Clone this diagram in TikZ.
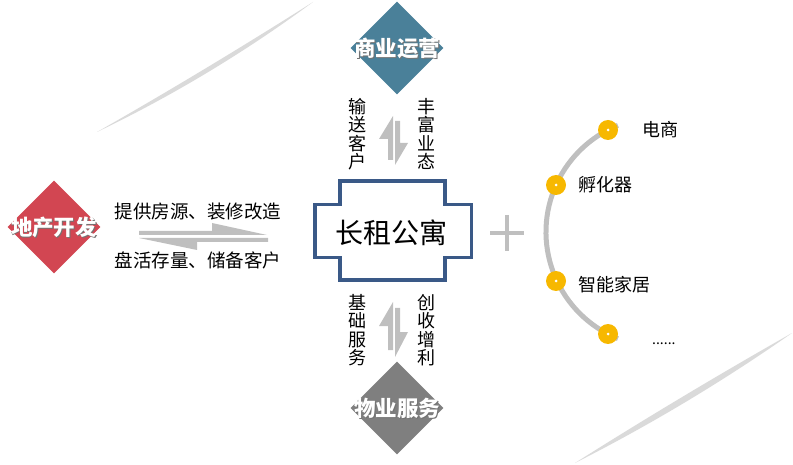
\documentclass[tikz,border=0pt]{standalone}
\usepackage{fontspec}
\newfontfamily\cjk{Noto Sans CJK SC}
\usetikzlibrary{shapes.geometric}
\definecolor{reddia}{RGB}{210,70,82}
\definecolor{tealdia}{RGB}{74,128,153}
\definecolor{graydia}{RGB}{127,127,127}
\definecolor{boxblue}{RGB}{58,89,135}
\definecolor{arrgray}{RGB}{191,191,191}
\definecolor{gold}{RGB}{247,184,0}
\definecolor{swoosh}{RGB}{218,218,218}
\begin{document}
\begin{tikzpicture}[x=1pt,y=-1pt,
  dia/.style={diamond, aspect=1, minimum width=93pt, minimum height=93pt, inner sep=0pt, draw=none},
  diatext/.style={text=white, inner sep=0pt, font=\cjk\bfseries\fontsize{21.5}{22}\selectfont},
  diashadow/.style={text=black!55, inner sep=0pt, font=\cjk\bfseries\fontsize{21.5}{22}\selectfont},
  lbl/.style={text=black, inner sep=0pt, font=\cjk\fontsize{18.5}{18.5}\selectfont},
  vlbl/.style={text=black, inner sep=0pt, align=center, font=\cjk\fontsize{18}{18.5}\selectfont},
  arrshape/.style={fill=arrgray, draw=none},
  boxline/.style={draw=boxblue, line width=3.5pt, line join=miter},
  arcline/.style={draw=arrgray, line width=5pt},
  plusline/.style={draw=arrgray, line width=4pt},
  dotnode/.style={circle, fill=gold, minimum size=20pt, inner sep=0pt},
  swooshfill/.style={fill=swoosh, draw=none}
]
\useasboundingbox (0,0) rectangle (793,465);

% decorative swooshes
\path[swooshfill] (97,132) .. controls (170,90.4) and (242,47) .. (313,2)
      .. controls (245,52.2) and (173,95.6) .. cycle;
\path[swooshfill] (575,463) .. controls (646,418) and (718,375) .. (792,333)
      .. controls (722,382) and (650,425) .. cycle;

% diamonds
\node[dia, fill=reddia] (dev) at (54,227) {};
\node[diashadow] (devs) at (55,228) {地产开发};
\node[diatext] (devt) at (dev) {地产开发};
\node[dia, fill=tealdia] (biz) at (397,48) {};
\node[diashadow] (bizs) at (398,49) {商业运营};
\node[diatext] (bizt) at (biz) {商业运营};
\node[dia, fill=graydia] (prop) at (397,408) {};
\node[diashadow] (props) at (398,409) {物业服务};
\node[diatext] (propt) at (prop) {物业服务};

% center box
\node[text=black, inner sep=0pt, font=\cjk\fontsize{28}{28}\selectfont] (apt) at (391.5,232.5) {长租公寓};
\draw[boxline] (340,181) -- (445,181) -- (445,204.5) -- (471.5,204.5) -- (471.5,257.5)
  -- (445,257.5) -- (445,280) -- (340,280) -- (340,257.5) -- (315,257.5) -- (315,204.5)
  -- (340,204.5) -- cycle;

% horizontal labels and half arrows
\node[lbl] (h1) at (198,212) {提供房源、装修改造};
\node[lbl] (h2) at (198,260) {盘活存量、储备客户};
\fill[arrshape] (139,231) -- (212,231) -- (212,223) -- (267,235) -- (139,235) -- cycle;
\fill[arrshape] (268,238) -- (139,238) -- (197,250) -- (197,242) -- (268,242) -- cycle;

% vertical labels
\node[vlbl] (v1) at (357,134) {输\\送\\客\\户};
\node[vlbl] (v2) at (426,134) {丰\\富\\业\\态};
\node[vlbl] (v3) at (357,330) {基\\础\\服\\务};
\node[vlbl] (v4) at (426,330) {创\\收\\增\\利};

% vertical half arrows (top pair)
\fill[arrshape] (393,116) -- (393,160) -- (388,160) -- (388,139) -- (379,139) -- cycle;
\fill[arrshape] (395,165) -- (395,121) -- (400,121) -- (400,143) -- (408,143) -- cycle;
% vertical half arrows (bottom pair)
\fill[arrshape] (393,302) -- (393,350) -- (388,350) -- (388,326) -- (379,326) -- cycle;
\fill[arrshape] (395,357) -- (395,308) -- (400,308) -- (400,332) -- (408,332) -- cycle;

% plus sign
\coordinate (plusc) at (507,233);
\draw[plusline] (490,233) -- (524,233);
\draw[plusline] (507,215) -- (507,251);

% arc and dots
\coordinate (ctr) at (661,232);
\draw[arcline] (ctr) ++(112:115) arc[start angle=112, end angle=248, radius=115];
\node[dotnode] (p1) at (608,130) {};
\node[dotnode] (p2) at (556,185) {};
\node[dotnode] (p3) at (556,281) {};
\node[dotnode] (p4) at (608,334) {};
\foreach \p in {p1,p2,p3,p4} \fill[white] (\p) circle (1.5);

\node[lbl, anchor=west, font=\cjk\fontsize{18}{18}\selectfont] (l1) at (642,130) {电商};
\node[lbl, anchor=west, font=\cjk\fontsize{18}{18}\selectfont] (l2) at (578,185) {孵化器};
\node[lbl, anchor=west, font=\cjk\fontsize{18}{18}\selectfont] (l3) at (578,285) {智能家居};
\node[lbl, anchor=base west, font=\cjk\fontsize{14}{14}\selectfont] (l4) at (652,344) {......};
\end{tikzpicture}
\end{document}
